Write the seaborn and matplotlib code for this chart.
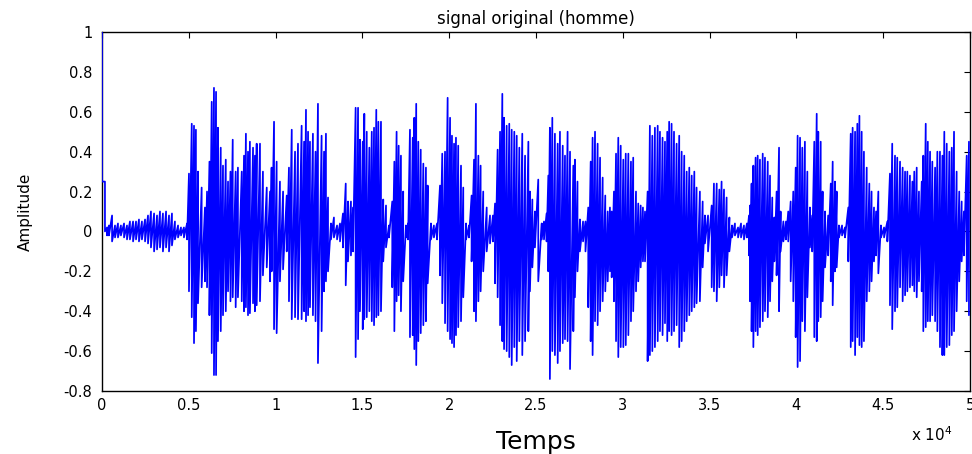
import numpy as np
import pandas as pd
import matplotlib
matplotlib.use("Agg")
import matplotlib.pyplot as plt
import seaborn as sns

# Envelope of the waveform: sample index, local max, local min
sample_idx = [
    0, 170, 290, 400, 580, 750, 920, 1090, 1270, 1440, 1610, 1790, 1960, 2130, 2300, 2480,
    2650, 2820, 3000, 3170, 3340, 3510, 3690, 3860, 4030, 4200, 4380, 4550, 4720, 4900,
    5010, 5170, 5300, 5410, 5530, 5740, 5930, 6050, 6190, 6320, 6450, 6570, 6680, 6840,
    6970, 7130, 7260, 7400, 7530, 7700, 7830, 8050, 8180, 8290, 8410, 8520, 8700, 8810,
    8910, 9100, 9270, 9490, 9680, 9770, 9910, 10060, 10250, 10430, 10640, 10770, 10930,
    11120, 11290, 11500, 11640, 11750, 11870, 11980, 12150, 12300, 12440, 12650, 12790,
    12900, 13020, 13190, 13360, 13540, 13710, 13880, 14040, 14170, 14340, 14460, 14610,
    14750, 14860, 15020, 15110, 15250, 15400, 15540, 15670, 15800, 15920, 16070, 16200,
    16360, 16530, 16720, 16840, 16970, 17090, 17220, 17350, 17510, 17630, 17740, 17900,
    17990, 18100, 18220, 18360, 18510, 18660, 18760, 18950, 19120, 19300, 19470, 19600,
    19760, 19910, 20050, 20160, 20280, 20390, 20520, 20680, 20810, 20970, 21140, 21290,
    21430, 21540, 21680, 21810, 21960, 22160, 22350, 22520, 22640, 22790, 22930, 23060,
    23160, 23310, 23460, 23600, 23750, 23890, 24040, 24210, 24370, 24560, 24650, 24790,
    24940, 25130, 25330, 25460, 25610, 25710, 25800, 25940, 26090, 26250, 26380, 26540,
    26670, 26820, 26960, 27150, 27240, 27390, 27530, 27710, 27850, 28010, 28150, 28260,
    28400, 28550, 28690, 28840, 28990, 29130, 29260, 29360, 29490, 29610, 29740, 29880,
    30030, 30170, 30320, 30470, 30600, 30760, 30890, 31030, 31160, 31280, 31430, 31560,
    31700, 31850, 32010, 32140, 32290, 32430, 32560, 32670, 32810, 32950, 33100, 33250,
    33390, 33540, 33680, 33830, 33970, 34120, 34250, 34440, 34600, 34730, 34910, 35120,
    35250, 35410, 35560, 35690, 35830, 35980, 36140, 36290, 36460, 36640, 36810, 36980,
    37150, 37270, 37330, 37420, 37520, 37650, 37770, 37900, 38060, 38190, 38350, 38480,
    38610, 38730, 38860, 39000, 39090, 39250, 39400, 39530, 39670, 39820, 39960, 40070,
    40210, 40340, 40490, 40630, 40780, 40910, 41030, 41170, 41260, 41400, 41510, 41650,
    41830, 41980, 42090, 42220, 42320, 42450, 42630, 42800, 42990, 43130, 43240, 43380,
    43510, 43630, 43760, 43890, 44050, 44200, 44330, 44470, 44590, 44720, 44870, 45050,
    45240, 45390, 45520, 45680, 45810, 45970, 46120, 46260, 46390, 46540, 46680, 46790,
    46930, 47060, 47220, 47310, 47450, 47570, 47700, 47830, 47990, 48120, 48270, 48410,
    48520, 48660, 48810, 48950, 49080, 49230, 49380, 49520, 49650, 49810, 49940,
]
upper_peak = [
    1.00, 0.25, 0.02, 0.03, 0.08, 0.03, 0.04, 0.03, 0.04, 0.03, 0.05, 0.05, 0.05, 0.06, 0.05, 0.06,
    0.08, 0.10, 0.09, 0.08, 0.10, 0.09, 0.10, 0.08, 0.09, 0.05, 0.03, 0.02, 0.02, 0.04,
    0.29, 0.54, 0.53, 0.51, 0.30, 0.22, 0.12, 0.20, 0.35, 0.65, 0.72, 0.70, 0.52, 0.42,
    0.33, 0.36, 0.25, 0.30, 0.46, 0.30, 0.32, 0.30, 0.38, 0.49, 0.40, 0.45, 0.42, 0.38,
    0.44, 0.44, 0.30, 0.22, 0.20, 0.32, 0.55, 0.35, 0.25, 0.20, 0.18, 0.32, 0.51,
    0.40, 0.44, 0.53, 0.45, 0.61, 0.50, 0.45, 0.49, 0.40, 0.64, 0.48, 0.40,
    0.49, 0.17, 0.04, 0.07, 0.03, 0.04, 0.09, 0.24, 0.15, 0.15, 0.12, 0.62,
    0.62, 0.46, 0.45, 0.59, 0.50, 0.42, 0.50, 0.52, 0.61, 0.55, 0.55, 0.16,
    0.13, 0.03, 0.15, 0.35, 0.50, 0.43, 0.38, 0.20, 0.03, 0.04, 0.51, 0.47,
    0.57, 0.64, 0.45, 0.41, 0.34, 0.32, 0.23, 0.04, 0.03, 0.04, 0.23, 0.39,
    0.40, 0.67, 0.57, 0.48, 0.44, 0.47, 0.43, 0.33, 0.22, 0.04, 0.03, 0.18,
    0.36, 0.64, 0.38, 0.33, 0.20, 0.12, 0.08, 0.08, 0.14, 0.41, 0.50, 0.69,
    0.57, 0.53, 0.54, 0.51, 0.50, 0.48, 0.42, 0.49, 0.38, 0.45, 0.20, 0.16,
    0.10, 0.26, 0.04, 0.05, 0.09, 0.28, 0.52, 0.57, 0.49, 0.44, 0.50, 0.43,
    0.38, 0.50, 0.40, 0.33, 0.36, 0.25, 0.06, 0.05, 0.05, 0.12, 0.35, 0.47,
    0.50, 0.44, 0.37, 0.27, 0.18, 0.10, 0.12, 0.10, 0.20, 0.39, 0.47, 0.43,
    0.36, 0.39, 0.39, 0.35, 0.37, 0.20, 0.14, 0.13, 0.12, 0.10, 0.20, 0.53,
    0.48, 0.52, 0.53, 0.50, 0.47, 0.45, 0.50, 0.55, 0.54, 0.50, 0.44, 0.48,
    0.40, 0.38, 0.30, 0.32, 0.28, 0.30, 0.22, 0.20, 0.15, 0.08, 0.08, 0.13,
    0.24, 0.24, 0.21, 0.25, 0.21, 0.17, 0.07, 0.03, 0.04, 0.02, 0.04, 0.03,
    0.04, 0.08, 0.13, 0.24, 0.33, 0.37, 0.38, 0.36, 0.39, 0.37, 0.35, 0.28,
    0.17, 0.07, 0.20, 0.42, 0.10, 0.05, 0.05, 0.10, 0.15, 0.20, 0.32, 0.48,
    0.47, 0.42, 0.45, 0.30, 0.12, 0.08, 0.45, 0.59, 0.50, 0.45, 0.20, 0.10,
    0.08, 0.24, 0.35, 0.25, 0.20, 0.03, 0.03, 0.02, 0.12, 0.49, 0.52, 0.50,
    0.54, 0.58, 0.50, 0.40, 0.32, 0.24, 0.20, 0.12, 0.10, 0.20, 0.03, 0.02,
    0.05, 0.29, 0.44, 0.38, 0.37, 0.35, 0.32, 0.30, 0.30, 0.28, 0.25, 0.30,
    0.32, 0.20, 0.25, 0.38, 0.54, 0.45, 0.40, 0.35, 0.32, 0.40, 0.40, 0.38,
    0.50, 0.44, 0.40, 0.42, 0.50, 0.30, 0.20, 0.15, 0.10, 0.38, 0.45,
]
lower_peak = [
    0.25, 0.00, -0.02, -0.02, -0.05, -0.03, -0.03, -0.02, -0.03, -0.04, -0.04, -0.05, -0.04, -0.05, -0.04, -0.05,
    -0.06, -0.08, -0.10, -0.09, -0.08, -0.10, -0.08, -0.10, -0.07, -0.04, -0.03, -0.02, -0.03, -0.04,
    -0.30, -0.43, -0.56, -0.50, -0.36, -0.28, -0.25, -0.28, -0.42, -0.61, -0.72, -0.72, -0.55, -0.50,
    -0.42, -0.40, -0.30, -0.35, -0.33, -0.38, -0.33, -0.35, -0.40, -0.38, -0.42, -0.41, -0.36, -0.40,
    -0.37, -0.35, -0.22, -0.18, -0.25, -0.20, -0.49, -0.51, -0.25, -0.19, -0.10, -0.35, -0.44,
    -0.43, -0.44, -0.44, -0.40, -0.45, -0.42, -0.38, -0.42, -0.45, -0.66, -0.50, -0.30,
    -0.25, -0.20, -0.04, -0.03, -0.04, -0.05, -0.08, -0.27, -0.15, -0.12, -0.10, -0.63,
    -0.54, -0.40, -0.49, -0.44, -0.43, -0.40, -0.45, -0.47, -0.43, -0.42, -0.40, -0.15,
    -0.08, -0.03, -0.28, -0.50, -0.35, -0.32, -0.40, -0.25, -0.03, -0.04, -0.53, -0.52,
    -0.59, -0.67, -0.55, -0.51, -0.47, -0.45, -0.26, -0.04, -0.03, -0.04, -0.22, -0.36,
    -0.46, -0.50, -0.54, -0.56, -0.58, -0.52, -0.48, -0.45, -0.33, -0.04, -0.03, -0.15,
    -0.40, -0.45, -0.35, -0.30, -0.20, -0.10, -0.06, -0.05, -0.26, -0.33, -0.47, -0.55,
    -0.59, -0.60, -0.63, -0.67, -0.58, -0.65, -0.55, -0.62, -0.55, -0.50, -0.30, -0.18,
    -0.08, -0.25, -0.04, -0.04, -0.05, -0.20, -0.74, -0.60, -0.62, -0.66, -0.60, -0.56,
    -0.54, -0.55, -0.69, -0.50, -0.33, -0.20, -0.10, -0.05, -0.10, -0.38, -0.55, -0.62,
    -0.45, -0.47, -0.40, -0.35, -0.30, -0.25, -0.20, -0.23, -0.35, -0.55, -0.63, -0.58,
    -0.58, -0.57, -0.52, -0.45, -0.40, -0.30, -0.25, -0.18, -0.15, -0.15, -0.65, -0.62,
    -0.60, -0.58, -0.55, -0.50, -0.52, -0.46, -0.55, -0.50, -0.52, -0.50, -0.47, -0.58,
    -0.55, -0.50, -0.45, -0.42, -0.40, -0.38, -0.36, -0.35, -0.18, -0.06, -0.10, -0.28,
    -0.30, -0.35, -0.28, -0.22, -0.28, -0.22, -0.10, -0.03, -0.02, -0.03, -0.03, -0.04,
    -0.03, -0.12, -0.35, -0.50, -0.58, -0.50, -0.52, -0.48, -0.45, -0.40, -0.43, -0.35,
    -0.25, -0.15, -0.22, -0.40, -0.10, -0.05, -0.04, -0.05, -0.25, -0.35, -0.53, -0.68,
    -0.65, -0.45, -0.50, -0.33, -0.08, -0.10, -0.53, -0.55, -0.45, -0.43, -0.35, -0.18,
    -0.12, -0.25, -0.37, -0.20, -0.18, -0.03, -0.02, -0.03, -0.15, -0.58, -0.55, -0.62,
    -0.53, -0.57, -0.58, -0.55, -0.35, -0.30, -0.25, -0.15, -0.12, -0.21, -0.03, -0.03,
    -0.05, -0.37, -0.49, -0.40, -0.38, -0.28, -0.35, -0.32, -0.30, -0.28, -0.27, -0.30,
    -0.33, -0.25, -0.30, -0.50, -0.48, -0.45, -0.45, -0.42, -0.45, -0.50, -0.58, -0.62,
    -0.62, -0.58, -0.57, -0.52, -0.50, -0.40, -0.25, -0.15, -0.12, -0.35, -0.42,
]

x_ticks = [0, 5000, 10000, 15000, 20000, 25000, 30000, 35000, 40000, 45000, 50000]
x_tick_labels = ["0", "0.5", "1", "1.5", "2", "2.5", "3", "3.5", "4", "4.5", "5"]
y_ticks = [-0.8, -0.6, -0.4, -0.2, 0, 0.2, 0.4, 0.6, 0.8, 1]
y_tick_labels = ["-0.8", "-0.6", "-0.4", "-0.2", "0", "0.2", "0.4", "0.6", "0.8", "1"]

# Build the waveform trace: each envelope point gives a vertical stroke max -> min
t = np.repeat(np.asarray(sample_idx, dtype=float), 2)
amp = np.column_stack([upper_peak, lower_peak]).ravel()
df = pd.DataFrame({"Temps": t, "Amplitude": amp})

sns.set_theme(style="white")
plt.rcParams["font.family"] = ["DejaVu Sans"]

fig = plt.figure(figsize=(9.72, 4.54), dpi=100)
ax = fig.add_axes([102 / 972, 63 / 454, 868 / 972, 359 / 454])

sns.lineplot(data=df, x="Temps", y="Amplitude", sort=False, estimator=None,
             color="#0000ff", linewidth=1.25, ax=ax, zorder=3)

ax.set_xlim(0, 50000)
ax.set_ylim(-0.8, 1.0)
ax.set_xticks(x_ticks)
ax.set_xticklabels(x_tick_labels)
ax.set_yticks(y_ticks)
ax.set_yticklabels(y_tick_labels)

for s in ax.spines.values():
    s.set_visible(True)
    s.set_color("black")
    s.set_linewidth(1.0)
    s.set_zorder(2.5)

ax.tick_params(axis="both", which="both", direction="in", length=4, width=0.8,
               color="black", top=True, right=True, labelsize=10.5, labelcolor="black")
ax.tick_params(axis="y", pad=7)
ax.tick_params(axis="x", pad=5)

ax.set_xlabel("Temps", fontsize=18, family="DejaVu Sans",
              color="black", labelpad=12)
ax.set_ylabel("Amplitude", fontsize=11, family="DejaVu Sans",
              color="black", labelpad=22)
ax.set_title("signal original (homme)", fontsize=12, family="DejaVu Sans",
              color="black", pad=6)
ax.text(0.932, -0.095, r"x 10$^4$", transform=ax.transAxes, fontsize=11,
        family="DejaVu Sans", color="black", ha="left", va="top")

fig.savefig("out.png", dpi=100, facecolor="white")
